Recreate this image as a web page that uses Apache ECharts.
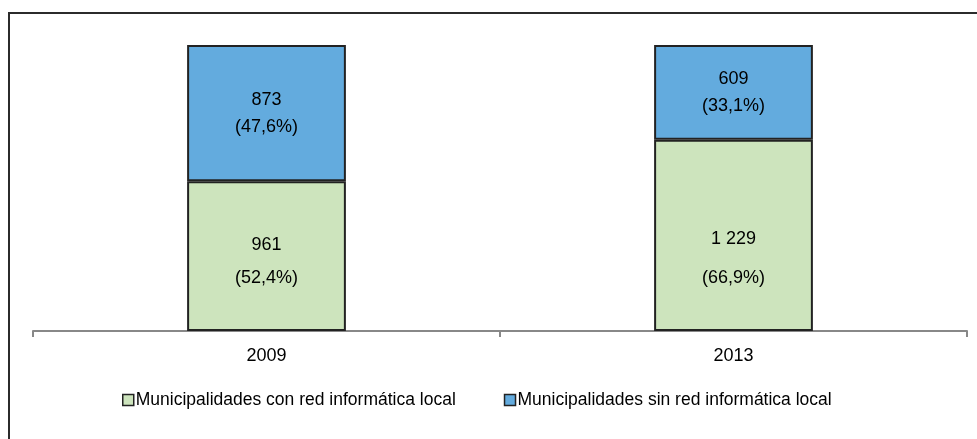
<!DOCTYPE html>
<html>
<head>
<meta charset="utf-8">
<script src="https://cdn.jsdelivr.net/npm/echarts@6/dist/echarts.min.js"></script>
<style>
html, body { margin: 0; padding: 0; background: #fff; }
#chart { width: 977px; height: 439px; }
</style>
</head>
<body>
<div id="chart"></div>
<script>
const years = ['2009', '2013']
const conRed = [961, 1229]
const conRedPct = [52.4, 66.9]
const sinRed = [873, 609]
const sinRedPct = [47.6, 33.1]

// label placement tweaks per bar (the original labels are not exactly centred)
const conLabelStyle = [
	{ lineHeight: 33, offset: [0, 5] },
	{ lineHeight: 39, offset: [0, 23] },
]

const font = "'Liberation Sans', Arial, sans-serif"

const fmtNum = (n) => String(n).replace(/\B(?=(\d{3})+(?!\d))/g, ' ')
const fmtPct = (p) => `(${p.toFixed(1).replace('.', ',')}%)`

const chart = echarts.init(document.getElementById('chart'))

chart.setOption({
	animation: false,
	textStyle: { fontFamily: font },
	graphic: [
		{
			type: 'rect',
			shape: { x: 9, y: 13, width: 1000, height: 500 },
			style: { fill: 'none', stroke: '#2b2b2b', lineWidth: 2 },
			silent: true,
		},
	],
	grid: {
		left: 33,
		right: 10,
		top: 45,
		bottom: 108,
	},
	legend: {
		top: 386,
		left: 117,
		itemGap: 48,
		itemWidth: 11,
		itemHeight: 11,
		icon: 'rect',
		itemStyle: { borderColor: '#222', borderWidth: 1.5 },
		textStyle: { fontSize: 17.5, color: '#000', fontFamily: font, padding: [0, 0, 0, -3] },
		data: ['Municipalidades con red informática local', 'Municipalidades sin red informática local'],
	},
	xAxis: {
		type: 'category',
		data: years,
		axisLine: { lineStyle: { color: '#888', width: 2 } },
		axisTick: { show: true, length: 6, lineStyle: { color: '#888', width: 2 } },
		axisLabel: { color: '#000', fontSize: 18, margin: 16, fontFamily: font },
	},
	yAxis: {
		type: 'value',
		min: 0,
		max: 100,
		show: false,
		splitLine: { show: false },
	},
	series: [
		{
			name: 'Municipalidades con red informática local',
			type: 'bar',
			stack: 'total',
			barWidth: '34%',
			data: conRedPct.map((v, i) => ({ value: v, label: conLabelStyle[i] })),
			itemStyle: { color: '#cde4bd', borderColor: '#222', borderWidth: 2 },
			label: {
				show: true,
				position: 'inside',
				color: '#000',
				fontSize: 18,
				lineHeight: 32,
				fontFamily: font,
				formatter: (p) => `${fmtNum(conRed[p.dataIndex])}\n${fmtPct(conRedPct[p.dataIndex])}`,
			},
		},
		{
			name: 'Municipalidades sin red informática local',
			type: 'bar',
			stack: 'total',
			barWidth: '34%',
			data: sinRedPct,
			itemStyle: { color: '#63abde', borderColor: '#222', borderWidth: 2 },
			label: {
				show: true,
				position: 'inside',
				color: '#000',
				fontSize: 18,
				lineHeight: 27,
				fontFamily: font,
				formatter: (p) => `${fmtNum(sinRed[p.dataIndex])}\n${fmtPct(sinRedPct[p.dataIndex])}`,
			},
		},
	],
})
</script>
</body>
</html>
